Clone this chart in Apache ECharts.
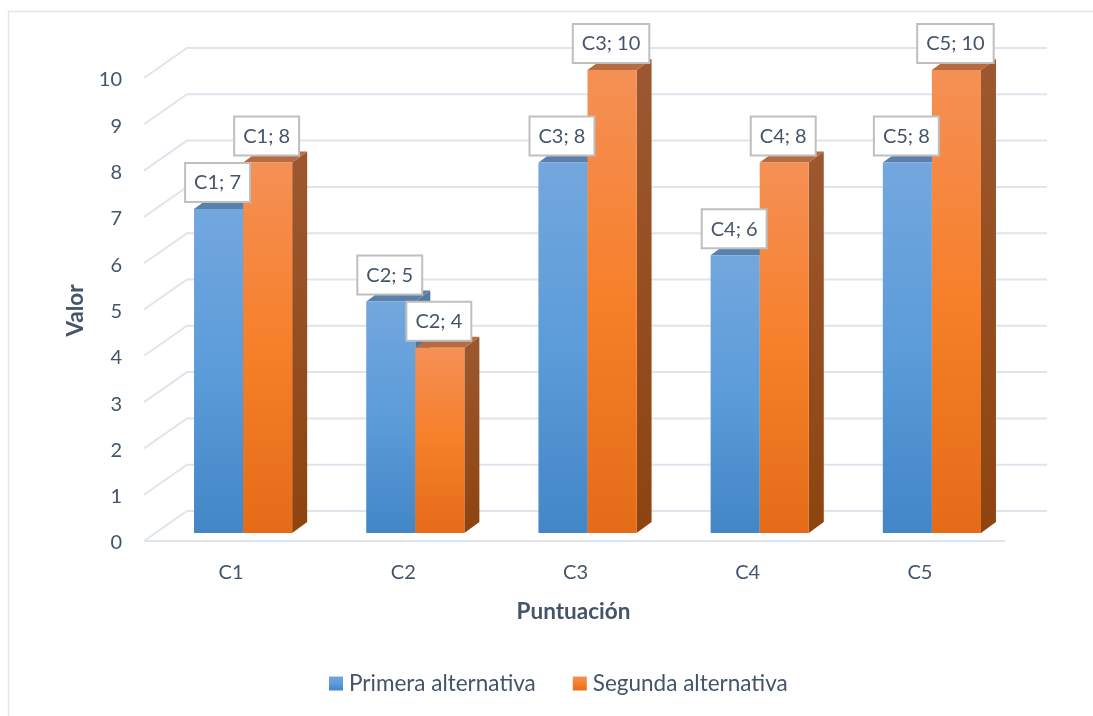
<!DOCTYPE html>
<html>
<head>
<meta charset="utf-8">
<style>html,body{margin:0;padding:0;background:#fff}#chart{width:1093px;height:716px}</style>
<script src="https://cdn.jsdelivr.net/npm/echarts@6/dist/echarts.min.js"></script>
</head>
<body>
<div id="chart"></div>
<script>
const categories = ['C1', 'C2', 'C3', 'C4', 'C5'];
const primera = [7, 5, 8, 6, 8];
const segunda = [8, 4, 10, 8, 10];
const yTicks = [0, 1, 2, 3, 4, 5, 6, 7, 8, 9, 10];
const seriesNames = ['Primera alternativa', 'Segunda alternativa'];

const TEXT = '#44546A';
const GRID_LINE = '#E0E4EC';
const FONT = 'Lato, "Open Sans", sans-serif';
// Pseudo-3D projection: bars stand between the front floor edge and the back wall.
const BACK = { dx: 30, dy: -22 };
const FRONT = { dx: -13, dy: 8 };
const BAR_DEPTH = { dx: 15, dy: -11 };
const BAR_RATIO = 0.285;

const grad = stops => new echarts.graphic.LinearGradient(0, 0, 0, 1,
  stops.map((c, i) => ({ offset: i / (stops.length - 1), color: c })));

const palettes = [
  { front: ['#73A7DE', '#5B9CD9', '#4386C6'], top: '#5A81AC', side: ['#53799F', '#3F6C99'] },
  { front: ['#F59055', '#F67F2A', '#E46C18'], top: '#B76B41', side: ['#9D5830', '#8D440F'] }
];

function wallRender(params, api) {
  const rect = params.coordSys;
  const y = api.coord([0, api.value(0)])[1];
  const style = { stroke: GRID_LINE, lineWidth: 2, fill: null };
  const xl = rect.x + BACK.dx, xr = rect.x + rect.width + BACK.dx - 1;
  const children = [
    { type: 'polyline', shape: { points: [
      [rect.x + FRONT.dx, y + FRONT.dy], [xl, y + BACK.dy], [xr, y + BACK.dy]
    ] }, style }
  ];
  if (api.value(0) === 0) {
    children.push({ type: 'line', shape: {
      x1: rect.x + FRONT.dx, y1: y + FRONT.dy, x2: rect.x + rect.width + FRONT.dx, y2: y + FRONT.dy
    }, style });
  }
  return { type: 'group', children };
}

function barRender(seriesIndex) {
  const pal = palettes[seriesIndex];
  return (params, api) => {
    const band = api.size([1, 0])[0];
    const w = band * BAR_RATIO;
    const base = api.coord([api.value(0), 0]);
    const topY = api.coord([api.value(0), api.value(1)])[1];
    const x0 = base[0] + (seriesIndex === 0 ? -w : 0);
    const x1 = x0 + w;
    const d = BAR_DEPTH;
    return { type: 'group', children: [
      { type: 'polygon', shape: { points: [[x1, topY], [x1 + d.dx, topY + d.dy], [x1 + d.dx, base[1] + d.dy], [x1, base[1]]] },
        style: { fill: grad(pal.side) } },
      { type: 'polygon', shape: { points: [[x0, topY], [x0 + d.dx, topY + d.dy], [x1 + d.dx, topY + d.dy], [x1, topY]] },
        style: { fill: pal.top } },
      { type: 'rect', shape: { x: x0, y: topY, width: w, height: base[1] - topY },
        style: { fill: grad(pal.front) } }
    ] };
  };
}

function labelRender(seriesIndex) {
  return (params, api) => {
    const band = api.size([1, 0])[0];
    const w = band * BAR_RATIO;
    const p = api.coord([api.value(0), api.value(1)]);
    const cx = p[0] + (seriesIndex === 0 ? -w / 2 : w / 2) - 1;
    return { type: 'text', x: cx, y: p[1] - 8, style: {
      text: categories[api.value(0)] + '; ' + api.value(1),
      align: 'center', verticalAlign: 'bottom',
      font: '20px ' + FONT, fill: TEXT,
      backgroundColor: '#fff', borderColor: '#BFBFBF', borderWidth: 2,
      padding: [9, 8, 8, 8]
    } };
  };
}

const pairs = values => values.map((v, i) => [i, v]);
const chart = echarts.init(document.getElementById('chart'), null, { renderer: 'canvas' });
chart.setOption({
  animation: false,
  backgroundColor: '#fff',
  grid: { left: 157, top: 70, width: 861, height: 463, containLabel: false },
  xAxis: {
    type: 'category', data: categories, boundaryGap: true,
    axisLine: { show: false }, axisTick: { show: false }, splitLine: { show: false },
    axisLabel: { color: TEXT, fontFamily: FONT, fontSize: 20, margin: 30, padding: [0, 24, 0, 0] },
    name: 'Puntuación', nameLocation: 'middle', nameGap: 67,
    nameTextStyle: { color: TEXT, fontFamily: FONT, fontSize: 22.5, fontWeight: 'bold', padding: [0, 28, 0, 0] }
  },
  yAxis: {
    type: 'value', min: 0, max: 10, interval: 1,
    axisLine: { show: false }, axisTick: { show: false }, splitLine: { show: false },
    axisLabel: { color: TEXT, fontFamily: FONT, fontSize: 20, margin: 35, verticalAlign: 'top', lineHeight: 20,
      formatter: v => yTicks.includes(v) ? String(v) : '' },
    name: 'Valor', nameLocation: 'middle', nameGap: 70,
    nameTextStyle: { color: TEXT, fontFamily: FONT, fontSize: 22.5, fontWeight: 'bold', padding: [0, 18, 0, 0] }
  },
  legend: {
    left: 324, top: 667, icon: 'rect', itemWidth: 14, itemHeight: 14, itemGap: 37,
    data: seriesNames, selectedMode: false,
    textStyle: { color: TEXT, fontFamily: FONT, fontSize: 22.5, padding: [0, 0, 0, 1] }
  },
  graphic: [{
    type: 'polyline', silent: true,
    shape: { points: [[8.5, 716], [8.5, 11.5], [1093, 11.5]] },
    style: { stroke: '#E1E6ED', lineWidth: 1.5, fill: null }
  }],
  series: [
    { type: 'custom', coordinateSystem: 'cartesian2d', renderItem: wallRender, clip: false, z: 1, silent: true,
      encode: { y: 0 }, data: yTicks.map(v => [v]) },
    { type: 'custom', name: seriesNames[0], coordinateSystem: 'cartesian2d', renderItem: barRender(0), clip: false, z: 2,
      encode: { x: 0, y: 1 }, itemStyle: { color: grad(palettes[0].front) }, data: pairs(primera) },
    { type: 'custom', name: seriesNames[1], coordinateSystem: 'cartesian2d', renderItem: barRender(1), clip: false, z: 3,
      encode: { x: 0, y: 1 }, itemStyle: { color: grad(palettes[1].front) }, data: pairs(segunda) },
    { type: 'custom', coordinateSystem: 'cartesian2d', renderItem: labelRender(0), clip: false, z: 4, silent: true,
      encode: { x: 0, y: 1 }, data: pairs(primera) },
    { type: 'custom', coordinateSystem: 'cartesian2d', renderItem: labelRender(1), clip: false, z: 5, silent: true,
      encode: { x: 0, y: 1 }, data: pairs(segunda) }
  ]
});
</script>
</body>
</html>
